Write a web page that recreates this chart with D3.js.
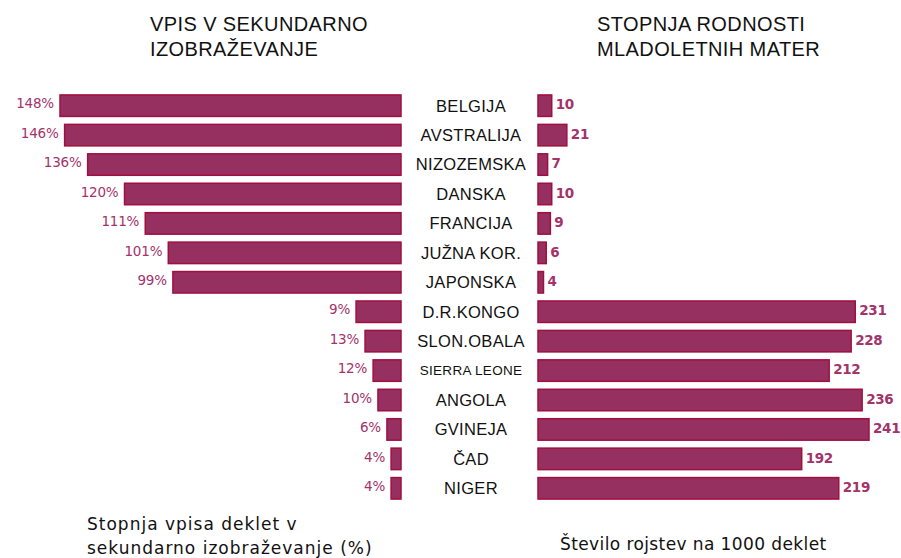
<!DOCTYPE html>
<html>
<head>
<meta charset="utf-8">
<script src="https://cdn.jsdelivr.net/npm/d3@7"></script>
<style>
  body { margin: 0; background: #fff; }
  svg { display: block; }
</style>
</head>
<body>
<svg id="chart" width="901" height="558"></svg>
<script>
const countries = ["BELGIJA", "AVSTRALIJA", "NIZOZEMSKA", "DANSKA", "FRANCIJA", "JUŽNA KOR.", "JAPONSKA",
    "D.R.KONGO", "SLON.OBALA", "SIERRA LEONE", "ANGOLA", "GVINEJA", "ČAD", "NIGER"];

// bar lengths as drawn in the picture (the small african bars are not to the labelled value)
const enrolBars = [148, 146, 136, 120, 111, 101, 99, 19.5, 15.6, 12.1, 10, 6.1, 4.3, 4.3];
const enrolLabels = ["148%", "146%", "136%", "120%", "111%", "101%", "99%", "9%", "13%", "12%", "10%", "6%", "4%", "4%"];

const births = [10, 21, 7, 10, 9, 6, 4, 231, 228, 212, 236, 241, 192, 219];

const leftTitle = ["VPIS V SEKUNDARNO", "IZOBRAŽEVANJE"];
const rightTitle = ["STOPNJA RODNOSTI", "MLADOLETNIH MATER"];
const leftNote = ["Stopnja vpisa deklet v", "sekundarno izobraževanje (%)"];
const rightNote = ["Število rojstev na 1000 deklet"];

const svg = d3.select("#chart");
const barFill = "#963060";
const barStroke = "#a10f3f";
const valueColor = "#a3336b";

const y = d3.scaleBand()
    .domain(countries)
    .range([92, 502])
    .paddingInner(0.27)
    .paddingOuter(0.1);

// left side grows to the left from x=401
const xLeft = d3.scaleLinear().domain([0, 148]).range([401, 60]);
// right side grows to the right from x=538
const xRight = d3.scaleLinear().domain([0, 241]).range([538, 869]);

const rows = countries.map((c, i) => ({
    name: c, enrol: enrolBars[i], enrolLabel: enrolLabels[i], births: births[i]
}));

const g = svg.append("g");

g.selectAll("rect.left")
    .data(rows)
    .enter()
    .append("rect")
    .attr("class", "left")
    .attr("x", d => xLeft(d.enrol))
    .attr("y", d => y(d.name))
    .attr("width", d => xLeft(0) - xLeft(d.enrol))
    .attr("height", y.bandwidth())
    .attr("fill", barFill)
    .attr("stroke", barStroke)
    .attr("stroke-width", 1.5);

g.selectAll("rect.right")
    .data(rows)
    .enter()
    .append("rect")
    .attr("class", "right")
    .attr("x", xRight(0))
    .attr("y", d => y(d.name))
    .attr("width", d => xRight(d.births) - xRight(0))
    .attr("height", y.bandwidth())
    .attr("fill", barFill)
    .attr("stroke", barStroke)
    .attr("stroke-width", 1.5);

g.selectAll("text.lval")
    .data(rows)
    .enter()
    .append("text")
    .attr("x", d => xLeft(d.enrol) - 6)
    .attr("y", d => y(d.name) + y.bandwidth() / 2 - 2)
    .attr("dy", "0.35em")
    .attr("text-anchor", "end")
    .attr("fill", valueColor)
    .style("font", "13.5px 'DejaVu Sans'")
    .style("letter-spacing", "-0.2px")
    .text(d => d.enrolLabel);

g.selectAll("text.rval")
    .data(rows)
    .enter()
    .append("text")
    .attr("x", d => xRight(d.births) + 4)
    .attr("y", d => y(d.name) + y.bandwidth() / 2 - 1)
    .attr("dy", "0.35em")
    .attr("fill", valueColor)
    .style("font", "bold 13.5px 'DejaVu Sans'")
    .style("letter-spacing", "-0.3px")
    .text(d => d.births);

g.selectAll("text.country")
    .data(rows)
    .enter()
    .append("text")
    .attr("x", 471)
    .attr("y", d => y(d.name) + y.bandwidth() / 2)
    .attr("dy", "0.36em")
    .attr("text-anchor", "middle")
    .attr("fill", "#111")
    .style("font-family", "'Liberation Sans', Arial, sans-serif")
    .style("font-size", d => d.name.length > 11 ? "13.5px" : "16.5px")
    .style("letter-spacing", "0.3px")
    .text(d => d.name);

const drawLines = function(lines, x, y0, step, size, family, spacing) {
    svg.append("text")
        .attr("x", x)
        .attr("y", y0)
        .attr("fill", "#111")
        .style("font-family", family)
        .style("font-size", size + "px")
        .style("letter-spacing", spacing + "px")
        .selectAll("tspan")
        .data(lines)
        .enter()
        .append("tspan")
        .attr("x", x)
        .attr("y", (d, i) => y0 + i * step)
        .text(d => d);
};

drawLines(leftTitle, 150, 31, 25, 20, "'Liberation Sans', Arial, sans-serif", 0.4);
drawLines(rightTitle, 597, 31, 25, 20, "'Liberation Sans', Arial, sans-serif", 0.4);
drawLines(leftNote, 87, 530, 24, 17, "'DejaVu Sans', Verdana, sans-serif", 1);
drawLines(rightNote, 560, 550, 24, 17, "'DejaVu Sans', Verdana, sans-serif", 0.4);
</script>
</body>
</html>
